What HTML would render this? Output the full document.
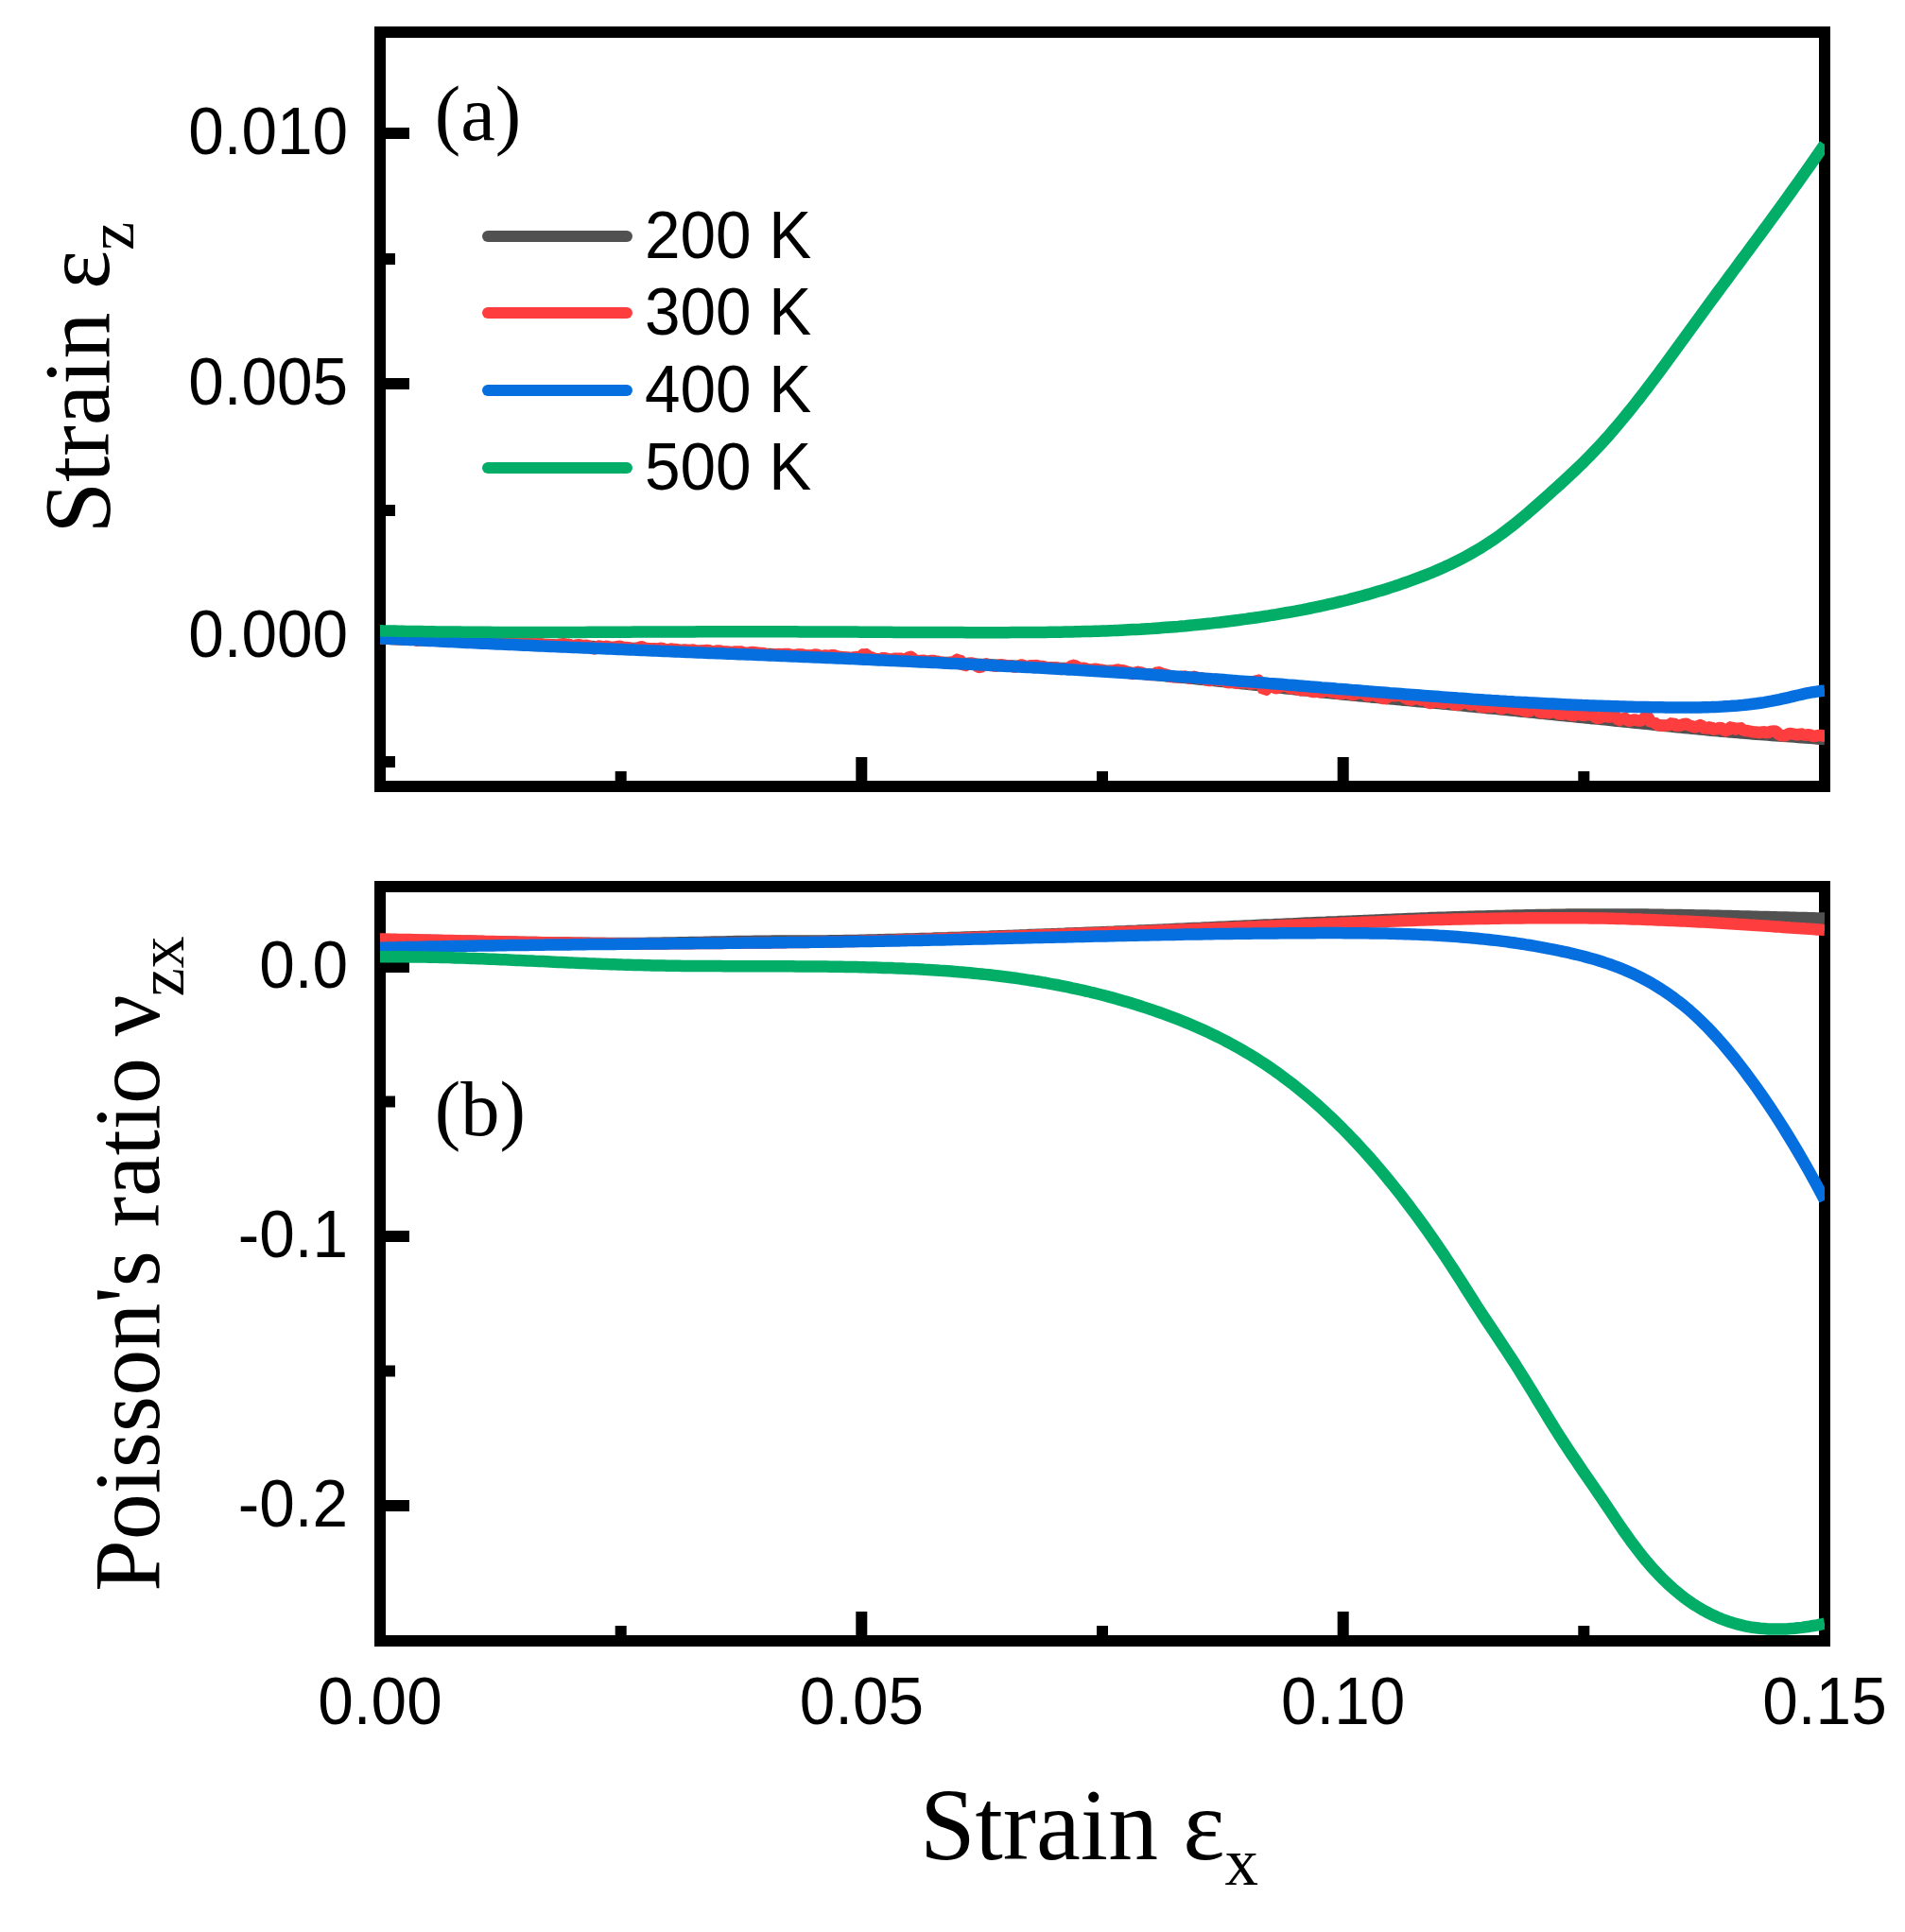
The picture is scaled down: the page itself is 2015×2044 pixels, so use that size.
<!DOCTYPE html>
<html lang="en"><head><meta charset="utf-8"><title>Strain and Poisson's ratio versus strain</title>
<style>
html,body{margin:0;padding:0;background:#fff}
body{width:2015px;height:2044px;overflow:hidden}
svg{display:block}
.sans{font-family:"Liberation Sans",Arial,Helvetica,sans-serif;fill:#000}
.serif{font-family:"Liberation Serif","Times New Roman",Times,serif;fill:#000}
</style></head><body>
<svg width="2015" height="2044" viewBox="0 0 2015 2044">
<rect x="0" y="0" width="2015" height="2044" fill="#fff"/>
<rect x="402" y="34" width="1528" height="798" fill="none" stroke="#000" stroke-width="12"/>
<rect x="402" y="938" width="1528" height="798" fill="none" stroke="#000" stroke-width="12"/>
<line x1="402" y1="141" x2="433.0" y2="141" stroke="#000" stroke-width="12"/>
<line x1="402" y1="274" x2="418.0" y2="274" stroke="#000" stroke-width="12"/>
<line x1="402" y1="406" x2="433.0" y2="406" stroke="#000" stroke-width="12"/>
<line x1="402" y1="540" x2="418.0" y2="540" stroke="#000" stroke-width="12"/>
<line x1="402" y1="673" x2="433.0" y2="673" stroke="#000" stroke-width="12"/>
<line x1="402" y1="806" x2="418.0" y2="806" stroke="#000" stroke-width="12"/>
<line x1="402" y1="1023" x2="433.0" y2="1023" stroke="#000" stroke-width="12"/>
<line x1="402" y1="1165.5" x2="418.0" y2="1165.5" stroke="#000" stroke-width="12"/>
<line x1="402" y1="1308" x2="433.0" y2="1308" stroke="#000" stroke-width="12"/>
<line x1="402" y1="1450.5" x2="418.0" y2="1450.5" stroke="#000" stroke-width="12"/>
<line x1="402" y1="1593" x2="433.0" y2="1593" stroke="#000" stroke-width="12"/>
<line x1="656.7" y1="832" x2="656.7" y2="816.0" stroke="#000" stroke-width="12"/>
<line x1="911.3" y1="832" x2="911.3" y2="801.0" stroke="#000" stroke-width="12"/>
<line x1="1166.0" y1="832" x2="1166.0" y2="816.0" stroke="#000" stroke-width="12"/>
<line x1="1420.7" y1="832" x2="1420.7" y2="801.0" stroke="#000" stroke-width="12"/>
<line x1="1675.3" y1="832" x2="1675.3" y2="816.0" stroke="#000" stroke-width="12"/>
<line x1="656.7" y1="1736" x2="656.7" y2="1720.0" stroke="#000" stroke-width="12"/>
<line x1="911.3" y1="1736" x2="911.3" y2="1705.0" stroke="#000" stroke-width="12"/>
<line x1="1166.0" y1="1736" x2="1166.0" y2="1720.0" stroke="#000" stroke-width="12"/>
<line x1="1420.7" y1="1736" x2="1420.7" y2="1705.0" stroke="#000" stroke-width="12"/>
<line x1="1675.3" y1="1736" x2="1675.3" y2="1720.0" stroke="#000" stroke-width="12"/>
<text class="sans" transform="translate(368,162.5) scale(1,1.03)" font-size="67.5" text-anchor="end">0.010</text>
<text class="sans" transform="translate(368,427.5) scale(1,1.03)" font-size="67.5" text-anchor="end">0.005</text>
<text class="sans" transform="translate(368,694.5) scale(1,1.03)" font-size="67.5" text-anchor="end">0.000</text>
<text class="sans" transform="translate(368,1044.5) scale(1,1.03)" font-size="67.5" text-anchor="end">0.0</text>
<text class="sans" transform="translate(368,1329.5) scale(1,1.03)" font-size="67.5" text-anchor="end">-0.1</text>
<text class="sans" transform="translate(368,1614.5) scale(1,1.03)" font-size="67.5" text-anchor="end">-0.2</text>
<text class="sans" transform="translate(402.0,1823.5) scale(1,1.03)" font-size="67.5" text-anchor="middle">0.00</text>
<text class="sans" transform="translate(911.3,1823.5) scale(1,1.03)" font-size="67.5" text-anchor="middle">0.05</text>
<text class="sans" transform="translate(1420.7,1823.5) scale(1,1.03)" font-size="67.5" text-anchor="middle">0.10</text>
<text class="sans" transform="translate(1930.0,1823.5) scale(1,1.03)" font-size="67.5" text-anchor="middle">0.15</text>
<defs><clipPath id="c1"><rect x="402" y="34" width="1528" height="798"/></clipPath><clipPath id="c2"><rect x="402" y="938" width="1528" height="798"/></clipPath></defs>
<g clip-path="url(#c1)">
<polyline points="390.0,675.1 402.0,675.5 406.0,675.6 410.0,675.8 414.0,675.9 418.0,676.1 422.0,676.2 426.0,676.4 430.0,676.5 434.0,676.7 438.0,676.8 442.0,677.0 446.0,677.1 450.0,677.3 454.0,677.4 458.0,677.6 462.0,677.7 466.0,677.9 470.0,678.0 474.0,678.2 478.0,678.3 482.0,678.5 486.0,678.6 490.0,678.8 494.0,678.9 498.0,679.1 502.0,679.2 506.0,679.4 510.0,679.5 514.0,679.7 518.0,679.8 522.0,680.0 526.0,680.1 530.0,680.3 534.0,680.5 538.0,680.6 542.0,680.8 546.0,680.9 550.0,681.1 554.0,681.2 558.0,681.4 562.0,681.6 566.0,681.7 570.0,681.9 574.0,682.0 578.0,682.2 582.0,682.3 586.0,682.5 590.0,682.7 594.0,682.8 598.0,683.0 602.0,683.1 606.0,683.3 610.0,683.5 614.0,683.6 618.0,683.8 622.0,683.9 626.0,684.1 630.0,684.3 634.0,684.4 638.0,684.6 642.0,684.8 646.0,684.9 650.0,685.1 654.0,685.3 658.0,685.4 662.0,685.6 666.0,685.7 670.0,685.9 674.0,686.1 678.0,686.2 682.0,686.4 686.0,686.6 690.0,686.7 694.0,686.9 698.0,687.1 702.0,687.2 706.0,687.4 710.0,687.6 714.0,687.7 718.0,687.9 722.0,688.1 726.0,688.2 730.0,688.4 734.0,688.6 738.0,688.7 742.0,688.9 746.0,689.1 750.0,689.3 754.0,689.4 758.0,689.6 762.0,689.8 766.0,689.9 770.0,690.1 774.0,690.3 778.0,690.5 782.0,690.6 786.0,690.8 790.0,691.0 794.0,691.2 798.0,691.4 802.0,691.5 806.0,691.7 810.0,691.9 814.0,692.1 818.0,692.3 822.0,692.4 826.0,692.6 830.0,692.8 834.0,693.0 838.0,693.2 842.0,693.3 846.0,693.5 850.0,693.7 854.0,693.9 858.0,694.1 862.0,694.3 866.0,694.4 870.0,694.6 874.0,694.8 878.0,695.0 882.0,695.2 886.0,695.4 890.0,695.6 894.0,695.8 898.0,695.9 902.0,696.1 906.0,696.3 910.0,696.5 914.0,696.7 918.0,696.9 922.0,697.1 926.0,697.3 930.0,697.5 934.0,697.7 938.0,697.9 942.0,698.1 946.0,698.3 950.0,698.5 954.0,698.7 958.0,698.9 962.0,699.1 966.0,699.2 970.0,699.4 974.0,699.6 978.0,699.8 982.0,700.0 986.0,700.2 990.0,700.4 994.0,700.7 998.0,700.9 1002.0,701.1 1006.0,701.3 1010.0,701.5 1014.0,701.7 1018.0,701.9 1022.0,702.1 1026.0,702.3 1030.0,702.5 1034.0,702.7 1038.0,702.9 1042.0,703.1 1046.0,703.3 1050.0,703.5 1054.0,703.7 1058.0,703.9 1062.0,704.1 1066.0,704.3 1070.0,704.5 1074.0,704.7 1078.0,704.8 1082.0,705.0 1086.0,705.2 1090.0,705.4 1094.0,705.6 1098.0,705.8 1102.0,706.0 1106.0,706.2 1110.0,706.3 1114.0,706.5 1118.0,706.7 1122.0,706.9 1126.0,707.1 1130.0,707.4 1134.0,707.6 1138.0,707.8 1142.0,708.0 1146.0,708.2 1150.0,708.5 1154.0,708.7 1158.0,709.0 1162.0,709.2 1166.0,709.5 1170.0,709.8 1174.0,710.1 1178.0,710.4 1182.0,710.7 1186.0,711.0 1190.0,711.3 1194.0,711.6 1198.0,712.0 1202.0,712.3 1206.0,712.6 1210.0,713.0 1214.0,713.3 1218.0,713.7 1222.0,714.1 1226.0,714.4 1230.0,714.8 1234.0,715.2 1238.0,715.6 1242.0,716.0 1246.0,716.3 1250.0,716.7 1254.0,717.1 1258.0,717.5 1262.0,717.9 1266.0,718.3 1270.0,718.7 1274.0,719.1 1278.0,719.5 1282.0,719.9 1286.0,720.3 1290.0,720.7 1294.0,721.1 1298.0,721.5 1302.0,721.9 1306.0,722.3 1310.0,722.8 1314.0,723.2 1318.0,723.6 1322.0,724.1 1326.0,724.5 1330.0,724.9 1334.0,725.4 1338.0,725.8 1342.0,726.3 1346.0,726.7 1350.0,727.1 1354.0,727.6 1358.0,728.0 1362.0,728.5 1366.0,728.9 1370.0,729.3 1374.0,729.8 1378.0,730.2 1382.0,730.6 1386.0,731.1 1390.0,731.5 1394.0,731.9 1398.0,732.3 1402.0,732.7 1406.0,733.1 1410.0,733.5 1414.0,733.9 1418.0,734.3 1422.0,734.7 1426.0,735.1 1430.0,735.5 1434.0,735.8 1438.0,736.2 1442.0,736.6 1446.0,737.0 1450.0,737.4 1454.0,737.7 1458.0,738.1 1462.0,738.5 1466.0,738.9 1470.0,739.2 1474.0,739.6 1478.0,740.0 1482.0,740.4 1486.0,740.7 1490.0,741.1 1494.0,741.5 1498.0,741.9 1502.0,742.2 1506.0,742.6 1510.0,743.0 1514.0,743.4 1518.0,743.7 1522.0,744.1 1526.0,744.5 1530.0,744.9 1534.0,745.3 1538.0,745.6 1542.0,746.0 1546.0,746.4 1550.0,746.8 1554.0,747.2 1558.0,747.6 1562.0,748.0 1566.0,748.4 1570.0,748.8 1574.0,749.2 1578.0,749.5 1582.0,749.9 1586.0,750.3 1590.0,750.7 1594.0,751.1 1598.0,751.5 1602.0,751.9 1606.0,752.3 1610.0,752.7 1614.0,753.1 1618.0,753.5 1622.0,753.9 1626.0,754.3 1630.0,754.7 1634.0,755.1 1638.0,755.5 1642.0,755.9 1646.0,756.3 1650.0,756.7 1654.0,757.1 1658.0,757.5 1662.0,757.9 1666.0,758.3 1670.0,758.7 1674.0,759.1 1678.0,759.5 1682.0,759.9 1686.0,760.2 1690.0,760.6 1694.0,761.0 1698.0,761.4 1702.0,761.9 1706.0,762.3 1710.0,762.7 1714.0,763.1 1718.0,763.5 1722.0,763.9 1726.0,764.3 1730.0,764.7 1734.0,765.1 1738.0,765.5 1742.0,765.9 1746.0,766.4 1750.0,766.8 1754.0,767.2 1758.0,767.6 1762.0,768.0 1766.0,768.4 1770.0,768.8 1774.0,769.2 1778.0,769.6 1782.0,770.0 1786.0,770.4 1790.0,770.8 1794.0,771.1 1798.0,771.5 1802.0,771.9 1806.0,772.3 1810.0,772.7 1814.0,773.0 1818.0,773.4 1822.0,773.7 1826.0,774.1 1830.0,774.4 1834.0,774.8 1838.0,775.1 1842.0,775.4 1846.0,775.8 1850.0,776.1 1854.0,776.4 1858.0,776.7 1862.0,777.0 1866.0,777.3 1870.0,777.6 1874.0,777.9 1878.0,778.2 1882.0,778.5 1886.0,778.8 1890.0,779.1 1894.0,779.3 1898.0,779.6 1902.0,779.9 1906.0,780.2 1910.0,780.5 1914.0,780.8 1918.0,781.1 1922.0,781.4 1926.0,781.7 1930.0,782.0" fill="none" stroke="#515151" stroke-width="12.5" stroke-linejoin="round" stroke-linecap="butt"/>
<polyline points="390.0,676.0 402.0,675.6 404.5,674.8 407.0,674.1 409.5,675.2 412.0,675.6 414.5,675.6 417.0,676.1 419.5,676.2 422.0,675.5 424.5,675.5 427.0,676.0 429.5,676.8 432.0,676.7 434.5,675.8 437.0,676.0 439.5,677.2 442.0,677.8 444.5,677.0 447.0,676.8 449.5,677.5 452.0,677.3 454.5,677.8 457.0,676.7 459.5,675.0 462.0,676.1 464.5,677.9 467.0,677.4 469.5,677.4 472.0,677.4 474.5,677.6 477.0,677.6 479.5,677.8 482.0,677.9 484.5,678.2 487.0,678.4 489.5,678.8 492.0,679.0 494.5,678.2 497.0,679.0 499.5,678.6 502.0,678.1 504.5,678.6 507.0,679.2 509.5,679.5 512.0,678.8 514.5,677.5 517.0,676.0 519.5,676.6 522.0,678.7 524.5,679.8 527.0,680.4 529.5,680.6 532.0,680.4 534.5,680.3 537.0,680.4 539.5,680.7 542.0,678.0 544.5,676.6 547.0,678.4 549.5,680.0 552.0,680.9 554.5,680.5 557.0,681.0 559.5,681.9 562.0,680.8 564.5,680.9 567.0,681.7 569.5,680.9 572.0,681.0 574.5,681.7 577.0,682.0 579.5,682.1 582.0,682.3 584.5,682.8 587.0,682.8 589.5,682.4 592.0,681.7 594.5,681.3 597.0,681.3 599.5,682.1 602.0,681.8 604.5,683.1 607.0,683.6 609.5,682.4 612.0,682.2 614.5,682.7 617.0,683.3 619.5,682.8 622.0,682.9 624.5,684.9 627.0,686.9 629.5,686.0 632.0,683.4 634.5,683.7 637.0,684.2 639.5,684.3 642.0,683.7 644.5,684.6 647.0,684.9 649.5,684.9 652.0,684.4 654.5,683.6 657.0,684.2 659.5,685.1 662.0,685.0 664.5,685.3 667.0,686.4 669.5,686.7 672.0,686.0 674.5,686.1 677.0,684.4 679.5,684.3 682.0,685.8 684.5,685.9 687.0,686.3 689.5,686.4 692.0,686.3 694.5,686.6 697.0,686.3 699.5,685.7 702.0,686.5 704.5,687.2 707.0,687.6 709.5,686.6 712.0,686.8 714.5,686.9 717.0,687.4 719.5,688.3 722.0,687.9 724.5,687.4 727.0,687.8 729.5,688.1 732.0,687.5 734.5,688.0 737.0,689.1 739.5,689.0 742.0,688.4 744.5,688.2 747.0,688.1 749.5,688.0 752.0,689.1 754.5,689.3 757.0,688.9 759.5,688.3 762.0,688.7 764.5,689.6 767.0,689.6 769.5,689.5 772.0,690.1 774.5,690.3 777.0,689.6 779.5,689.5 782.0,689.4 784.5,689.6 787.0,690.7 789.5,691.0 792.0,690.7 794.5,689.9 797.0,690.0 799.5,690.6 802.0,690.8 804.5,691.0 807.0,691.0 809.5,691.9 812.0,692.8 814.5,693.0 817.0,692.8 819.5,692.3 822.0,692.3 824.5,692.1 827.0,692.5 829.5,692.1 832.0,691.9 834.5,692.1 837.0,692.9 839.5,693.0 842.0,692.7 844.5,692.3 847.0,692.6 849.5,692.6 852.0,693.7 854.5,693.5 857.0,693.5 859.5,693.2 862.0,692.5 864.5,692.7 867.0,693.9 869.5,694.6 872.0,693.6 874.5,693.6 877.0,693.9 879.5,693.2 882.0,693.2 884.5,694.1 887.0,694.6 889.5,694.9 892.0,695.7 894.5,695.4 897.0,695.7 899.5,696.6 902.0,696.4 904.5,694.9 907.0,695.4 909.5,696.1 912.0,693.1 914.5,691.3 917.0,692.9 919.5,695.1 922.0,695.5 924.5,696.6 927.0,697.7 929.5,697.9 932.0,696.8 934.5,695.9 937.0,696.6 939.5,697.1 942.0,697.5 944.5,697.1 947.0,696.6 949.5,697.2 952.0,696.6 954.5,697.2 957.0,698.3 959.5,696.5 962.0,694.7 964.5,695.2 967.0,698.5 969.5,699.2 972.0,699.0 974.5,699.1 977.0,698.7 979.5,699.6 982.0,699.7 984.5,698.9 987.0,699.0 989.5,699.4 992.0,699.7 994.5,700.7 997.0,700.8 999.5,701.5 1002.0,701.6 1004.5,700.9 1007.0,700.4 1009.5,700.0 1012.0,698.1 1014.5,696.9 1017.0,701.4 1019.5,705.0 1022.0,703.7 1024.5,701.7 1027.0,701.5 1029.5,702.0 1032.0,703.4 1034.5,705.7 1037.0,706.2 1039.5,704.3 1042.0,702.2 1044.5,702.8 1047.0,704.0 1049.5,704.1 1052.0,704.6 1054.5,704.7 1057.0,703.4 1059.5,703.3 1062.0,703.8 1064.5,704.5 1067.0,704.2 1069.5,704.7 1072.0,705.4 1074.5,705.5 1077.0,704.8 1079.5,703.6 1082.0,703.5 1084.5,705.3 1087.0,705.2 1089.5,704.2 1092.0,704.3 1094.5,704.3 1097.0,704.0 1099.5,705.0 1102.0,704.9 1104.5,705.4 1107.0,706.3 1109.5,706.2 1112.0,706.6 1114.5,706.6 1117.0,706.4 1119.5,707.0 1122.0,708.0 1124.5,707.5 1127.0,707.8 1129.5,706.8 1132.0,705.5 1134.5,703.8 1137.0,704.1 1139.5,705.6 1142.0,707.9 1144.5,707.0 1147.0,706.8 1149.5,707.9 1152.0,708.4 1154.5,708.6 1157.0,708.0 1159.5,707.6 1162.0,708.9 1164.5,708.6 1167.0,709.3 1169.5,710.2 1172.0,710.6 1174.5,709.8 1177.0,709.5 1179.5,709.2 1182.0,708.4 1184.5,709.0 1187.0,709.2 1189.5,709.6 1192.0,710.7 1194.5,711.5 1197.0,713.2 1199.5,712.8 1202.0,710.6 1204.5,711.3 1207.0,711.5 1209.5,712.7 1212.0,713.2 1214.5,713.8 1217.0,713.9 1219.5,714.0 1222.0,712.7 1224.5,711.0 1227.0,711.8 1229.5,712.9 1232.0,713.4 1234.5,714.0 1237.0,716.0 1239.5,715.8 1242.0,716.4 1244.5,716.1 1247.0,716.8 1249.5,715.6 1252.0,716.0 1254.5,715.5 1257.0,717.2 1259.5,718.1 1262.0,715.8 1264.5,716.1 1267.0,717.6 1269.5,717.4 1272.0,717.1 1274.5,719.1 1277.0,719.5 1279.5,720.3 1282.0,719.5 1284.5,718.2 1287.0,719.2 1289.5,720.6 1292.0,719.0 1294.5,719.6 1297.0,721.4 1299.5,722.4 1302.0,721.8 1304.5,720.9 1307.0,723.2 1309.5,722.5 1312.0,722.1 1314.5,722.4 1317.0,722.2 1319.5,721.8 1322.0,723.1 1324.5,724.4 1327.0,722.1 1329.5,719.1 1332.0,720.1 1334.5,725.7 1337.0,730.9 1339.5,729.5 1342.0,725.4 1344.5,725.9 1347.0,727.1 1349.5,728.2 1352.0,727.9 1354.5,725.9 1357.0,725.4 1359.5,726.1 1362.0,726.3 1364.5,728.5 1367.0,728.2 1369.5,727.8 1372.0,728.3 1374.5,730.6 1377.0,730.1 1379.5,729.6 1382.0,730.4 1384.5,730.6 1387.0,731.6 1389.5,732.3 1392.0,731.4 1394.5,731.9 1397.0,732.6 1399.5,731.9 1402.0,730.3 1404.5,730.7 1407.0,731.9 1409.5,732.4 1412.0,732.1 1414.5,733.6 1417.0,733.9 1419.5,734.1 1422.0,733.2 1424.5,732.6 1427.0,733.4 1429.5,735.4 1432.0,734.9 1434.5,734.0 1437.0,733.0 1439.5,733.4 1442.0,732.1 1444.5,736.0 1447.0,736.4 1449.5,735.7 1452.0,734.4 1454.5,735.1 1457.0,737.2 1459.5,737.4 1462.0,738.3 1464.5,739.6 1467.0,738.4 1469.5,735.6 1472.0,735.9 1474.5,736.3 1477.0,736.3 1479.5,735.2 1482.0,735.5 1484.5,737.3 1487.0,738.7 1489.5,740.0 1492.0,740.3 1494.5,741.0 1497.0,738.1 1499.5,738.2 1502.0,740.4 1504.5,740.4 1507.0,740.2 1509.5,742.4 1512.0,743.9 1514.5,743.8 1517.0,742.1 1519.5,742.2 1522.0,742.8 1524.5,743.3 1527.0,744.1 1529.5,743.2 1532.0,742.7 1534.5,741.3 1537.0,744.6 1539.5,746.5 1542.0,745.4 1544.5,745.2 1547.0,742.9 1549.5,743.2 1552.0,743.2 1554.5,745.5 1557.0,745.9 1559.5,744.0 1562.0,744.2 1564.5,746.3 1567.0,749.6 1569.5,747.9 1572.0,747.4 1574.5,748.0 1577.0,748.1 1579.5,747.1 1582.0,745.9 1584.5,747.6 1587.0,750.6 1589.5,749.7 1592.0,748.1 1594.5,747.3 1597.0,748.9 1599.5,749.5 1602.0,749.6 1604.5,750.9 1607.0,750.1 1609.5,750.7 1612.0,752.2 1614.5,752.4 1617.0,753.0 1619.5,751.7 1622.0,749.5 1624.5,749.2 1627.0,751.5 1629.5,754.6 1632.0,754.0 1634.5,753.6 1637.0,754.3 1639.5,754.3 1642.0,752.7 1644.5,753.3 1647.0,754.4 1649.5,755.9 1652.0,755.3 1654.5,755.8 1657.0,754.1 1659.5,755.5 1662.0,757.2 1664.5,756.7 1667.0,756.9 1669.5,754.4 1672.0,756.0 1674.5,757.2 1677.0,756.5 1679.5,755.7 1682.0,756.9 1684.5,755.6 1687.0,758.6 1689.5,759.7 1692.0,760.0 1694.5,758.5 1697.0,757.3 1699.5,758.0 1702.0,759.0 1704.5,757.9 1707.0,755.8 1709.5,758.6 1712.0,762.1 1714.5,762.1 1717.0,758.8 1719.5,760.2 1722.0,762.6 1724.5,762.8 1727.0,761.4 1729.5,761.6 1732.0,762.3 1734.5,762.6 1737.0,762.0 1739.5,759.2 1742.0,757.2 1744.5,761.0 1747.0,765.2 1749.5,763.9 1752.0,766.1 1754.5,767.8 1757.0,767.1 1759.5,768.3 1762.0,766.9 1764.5,767.7 1767.0,765.9 1769.5,764.5 1772.0,767.0 1774.5,768.9 1777.0,767.0 1779.5,766.9 1782.0,765.6 1784.5,766.0 1787.0,767.8 1789.5,768.1 1792.0,769.3 1794.5,769.7 1797.0,767.2 1799.5,767.3 1802.0,769.7 1804.5,772.2 1807.0,769.8 1809.5,769.0 1812.0,771.2 1814.5,772.8 1817.0,770.3 1819.5,769.8 1822.0,770.9 1824.5,772.9 1827.0,773.8 1829.5,769.9 1832.0,768.8 1834.5,771.4 1837.0,771.7 1839.5,769.1 1842.0,770.9 1844.5,773.3 1847.0,772.7 1849.5,773.4 1852.0,773.8 1854.5,774.4 1857.0,774.5 1859.5,774.8 1862.0,775.4 1864.5,773.9 1867.0,774.6 1869.5,775.7 1872.0,774.2 1874.5,773.7 1877.0,773.3 1879.5,774.4 1882.0,777.8 1884.5,777.9 1887.0,778.7 1889.5,777.7 1892.0,776.3 1894.5,776.0 1897.0,776.6 1899.5,777.0 1902.0,777.6 1904.5,776.2 1907.0,777.1 1909.5,777.9 1912.0,777.2 1914.5,777.4 1917.0,778.7 1919.5,778.9 1922.0,778.3 1924.5,778.0 1927.0,778.0 1929.5,779.1 1930.0,778.8" fill="none" stroke="#fe3e3e" stroke-width="12.5" stroke-linejoin="bevel" stroke-linecap="butt"/>
<polyline points="390.0,674.6 402.0,675.2 406.0,675.4 410.0,675.6 414.0,675.9 418.0,676.1 422.0,676.3 426.0,676.5 430.0,676.7 434.0,676.9 438.0,677.1 442.0,677.3 446.0,677.5 450.0,677.7 454.0,677.9 458.0,678.1 462.0,678.3 466.0,678.5 470.0,678.7 474.0,678.9 478.0,679.1 482.0,679.3 486.0,679.5 490.0,679.7 494.0,679.9 498.0,680.1 502.0,680.3 506.0,680.5 510.0,680.7 514.0,680.8 518.0,681.0 522.0,681.2 526.0,681.4 530.0,681.6 534.0,681.8 538.0,681.9 542.0,682.1 546.0,682.3 550.0,682.5 554.0,682.7 558.0,682.8 562.0,683.0 566.0,683.2 570.0,683.4 574.0,683.6 578.0,683.7 582.0,683.9 586.0,684.1 590.0,684.2 594.0,684.4 598.0,684.6 602.0,684.8 606.0,684.9 610.0,685.1 614.0,685.3 618.0,685.4 622.0,685.6 626.0,685.8 630.0,686.0 634.0,686.1 638.0,686.3 642.0,686.5 646.0,686.6 650.0,686.8 654.0,687.0 658.0,687.1 662.0,687.3 666.0,687.4 670.0,687.6 674.0,687.8 678.0,687.9 682.0,688.1 686.0,688.3 690.0,688.4 694.0,688.6 698.0,688.8 702.0,688.9 706.0,689.1 710.0,689.2 714.0,689.4 718.0,689.6 722.0,689.7 726.0,689.9 730.0,690.1 734.0,690.2 738.0,690.4 742.0,690.5 746.0,690.7 750.0,690.9 754.0,691.0 758.0,691.2 762.0,691.3 766.0,691.5 770.0,691.7 774.0,691.8 778.0,692.0 782.0,692.2 786.0,692.3 790.0,692.5 794.0,692.6 798.0,692.8 802.0,693.0 806.0,693.1 810.0,693.3 814.0,693.5 818.0,693.6 822.0,693.8 826.0,693.9 830.0,694.1 834.0,694.3 838.0,694.4 842.0,694.6 846.0,694.8 850.0,694.9 854.0,695.1 858.0,695.3 862.0,695.4 866.0,695.6 870.0,695.8 874.0,695.9 878.0,696.1 882.0,696.3 886.0,696.5 890.0,696.6 894.0,696.8 898.0,697.0 902.0,697.1 906.0,697.3 910.0,697.5 914.0,697.7 918.0,697.8 922.0,698.0 926.0,698.2 930.0,698.4 934.0,698.5 938.0,698.7 942.0,698.9 946.0,699.1 950.0,699.3 954.0,699.4 958.0,699.6 962.0,699.8 966.0,700.0 970.0,700.2 974.0,700.4 978.0,700.5 982.0,700.7 986.0,700.9 990.0,701.1 994.0,701.3 998.0,701.5 1002.0,701.7 1006.0,701.9 1010.0,702.1 1014.0,702.3 1018.0,702.5 1022.0,702.6 1026.0,702.8 1030.0,703.0 1034.0,703.2 1038.0,703.4 1042.0,703.6 1046.0,703.8 1050.0,704.0 1054.0,704.3 1058.0,704.5 1062.0,704.7 1066.0,704.9 1070.0,705.1 1074.0,705.3 1078.0,705.5 1082.0,705.7 1086.0,705.9 1090.0,706.1 1094.0,706.4 1098.0,706.6 1102.0,706.8 1106.0,707.0 1110.0,707.2 1114.0,707.5 1118.0,707.7 1122.0,707.9 1126.0,708.1 1130.0,708.4 1134.0,708.6 1138.0,708.8 1142.0,709.1 1146.0,709.3 1150.0,709.5 1154.0,709.8 1158.0,710.0 1162.0,710.3 1166.0,710.5 1170.0,710.7 1174.0,711.0 1178.0,711.2 1182.0,711.5 1186.0,711.7 1190.0,712.0 1194.0,712.2 1198.0,712.5 1202.0,712.7 1206.0,713.0 1210.0,713.3 1214.0,713.5 1218.0,713.8 1222.0,714.1 1226.0,714.3 1230.0,714.6 1234.0,714.9 1238.0,715.1 1242.0,715.4 1246.0,715.7 1250.0,716.0 1254.0,716.2 1258.0,716.5 1262.0,716.8 1266.0,717.1 1270.0,717.4 1274.0,717.7 1278.0,718.0 1282.0,718.3 1286.0,718.5 1290.0,718.8 1294.0,719.1 1298.0,719.4 1302.0,719.7 1306.0,720.1 1310.0,720.4 1314.0,720.7 1318.0,721.0 1322.0,721.3 1326.0,721.6 1330.0,721.9 1334.0,722.2 1338.0,722.5 1342.0,722.9 1346.0,723.2 1350.0,723.5 1354.0,723.8 1358.0,724.1 1362.0,724.5 1366.0,724.8 1370.0,725.1 1374.0,725.4 1378.0,725.7 1382.0,726.1 1386.0,726.4 1390.0,726.7 1394.0,727.0 1398.0,727.4 1402.0,727.7 1406.0,728.0 1410.0,728.3 1414.0,728.7 1418.0,729.0 1422.0,729.3 1426.0,729.6 1430.0,730.0 1434.0,730.3 1438.0,730.6 1442.0,730.9 1446.0,731.2 1450.0,731.6 1454.0,731.9 1458.0,732.2 1462.0,732.5 1466.0,732.8 1470.0,733.2 1474.0,733.5 1478.0,733.8 1482.0,734.1 1486.0,734.4 1490.0,734.7 1494.0,735.0 1498.0,735.3 1502.0,735.6 1506.0,735.9 1510.0,736.2 1514.0,736.5 1518.0,736.8 1522.0,737.1 1526.0,737.4 1530.0,737.7 1534.0,738.0 1538.0,738.3 1542.0,738.6 1546.0,738.8 1550.0,739.1 1554.0,739.4 1558.0,739.7 1562.0,739.9 1566.0,740.2 1570.0,740.5 1574.0,740.7 1578.0,741.0 1582.0,741.2 1586.0,741.5 1590.0,741.7 1594.0,742.0 1598.0,742.2 1602.0,742.5 1606.0,742.7 1610.0,742.9 1614.0,743.1 1618.0,743.4 1622.0,743.6 1626.0,743.8 1630.0,744.0 1634.0,744.2 1638.0,744.4 1642.0,744.6 1646.0,744.8 1650.0,745.0 1654.0,745.2 1658.0,745.4 1662.0,745.6 1666.0,745.7 1670.0,745.9 1674.0,746.1 1678.0,746.2 1682.0,746.4 1686.0,746.5 1690.0,746.7 1694.0,746.8 1698.0,747.0 1702.0,747.1 1706.0,747.2 1710.0,747.3 1714.0,747.5 1718.0,747.6 1722.0,747.7 1726.0,747.8 1730.0,747.9 1734.0,747.9 1738.0,748.0 1742.0,748.1 1746.0,748.2 1750.0,748.2 1754.0,748.3 1758.0,748.3 1762.0,748.4 1766.0,748.4 1770.0,748.4 1774.0,748.5 1778.0,748.5 1782.0,748.5 1786.0,748.5 1790.0,748.5 1794.0,748.4 1798.0,748.4 1802.0,748.3 1806.0,748.2 1810.0,748.1 1814.0,747.9 1818.0,747.8 1822.0,747.6 1826.0,747.3 1830.0,747.1 1834.0,746.8 1838.0,746.5 1842.0,746.1 1846.0,745.7 1850.0,745.3 1854.0,744.8 1858.0,744.3 1862.0,743.7 1866.0,743.1 1870.0,742.4 1874.0,741.7 1878.0,740.9 1882.0,740.1 1886.0,739.2 1890.0,738.3 1894.0,737.4 1898.0,736.4 1902.0,735.5 1906.0,734.6 1910.0,733.7 1914.0,732.9 1918.0,732.2 1922.0,731.6 1926.0,731.0 1930.0,730.6" fill="none" stroke="#056fe0" stroke-width="12.5" stroke-linejoin="round" stroke-linecap="butt"/>
<polyline points="390.0,667.0 402.0,667.3 406.0,667.4 410.0,667.5 414.0,667.5 418.0,667.6 422.0,667.7 426.0,667.8 430.0,667.9 434.0,667.9 438.0,668.0 442.0,668.1 446.0,668.1 450.0,668.2 454.0,668.3 458.0,668.3 462.0,668.4 466.0,668.4 470.0,668.5 474.0,668.5 478.0,668.5 482.0,668.6 486.0,668.6 490.0,668.7 494.0,668.7 498.0,668.7 502.0,668.8 506.0,668.8 510.0,668.8 514.0,668.8 518.0,668.8 522.0,668.9 526.0,668.9 530.0,668.9 534.0,668.9 538.0,668.9 542.0,668.9 546.0,668.9 550.0,668.9 554.0,669.0 558.0,669.0 562.0,669.0 566.0,669.0 570.0,669.0 574.0,669.0 578.0,669.0 582.0,668.9 586.0,668.9 590.0,668.9 594.0,668.9 598.0,668.9 602.0,668.9 606.0,668.9 610.0,668.9 614.0,668.9 618.0,668.9 622.0,668.8 626.0,668.8 630.0,668.8 634.0,668.8 638.0,668.8 642.0,668.8 646.0,668.8 650.0,668.7 654.0,668.7 658.0,668.7 662.0,668.7 666.0,668.7 670.0,668.6 674.0,668.6 678.0,668.6 682.0,668.6 686.0,668.6 690.0,668.5 694.0,668.5 698.0,668.5 702.0,668.5 706.0,668.5 710.0,668.5 714.0,668.4 718.0,668.4 722.0,668.4 726.0,668.4 730.0,668.4 734.0,668.4 738.0,668.3 742.0,668.3 746.0,668.3 750.0,668.3 754.0,668.3 758.0,668.3 762.0,668.3 766.0,668.3 770.0,668.3 774.0,668.3 778.0,668.3 782.0,668.3 786.0,668.2 790.0,668.2 794.0,668.2 798.0,668.3 802.0,668.3 806.0,668.3 810.0,668.3 814.0,668.3 818.0,668.3 822.0,668.3 826.0,668.3 830.0,668.3 834.0,668.3 838.0,668.3 842.0,668.3 846.0,668.4 850.0,668.4 854.0,668.4 858.0,668.4 862.0,668.4 866.0,668.4 870.0,668.5 874.0,668.5 878.0,668.5 882.0,668.5 886.0,668.5 890.0,668.6 894.0,668.6 898.0,668.6 902.0,668.6 906.0,668.6 910.0,668.7 914.0,668.7 918.0,668.7 922.0,668.7 926.0,668.7 930.0,668.8 934.0,668.8 938.0,668.8 942.0,668.8 946.0,668.9 950.0,668.9 954.0,668.9 958.0,668.9 962.0,668.9 966.0,669.0 970.0,669.0 974.0,669.0 978.0,669.0 982.0,669.0 986.0,669.0 990.0,669.1 994.0,669.1 998.0,669.1 1002.0,669.1 1006.0,669.1 1010.0,669.1 1014.0,669.1 1018.0,669.1 1022.0,669.2 1026.0,669.2 1030.0,669.2 1034.0,669.2 1038.0,669.2 1042.0,669.2 1046.0,669.2 1050.0,669.2 1054.0,669.2 1058.0,669.2 1062.0,669.2 1066.0,669.2 1070.0,669.1 1074.0,669.1 1078.0,669.1 1082.0,669.1 1086.0,669.1 1090.0,669.0 1094.0,669.0 1098.0,669.0 1102.0,668.9 1106.0,668.9 1110.0,668.8 1114.0,668.8 1118.0,668.7 1122.0,668.7 1126.0,668.6 1130.0,668.5 1134.0,668.4 1138.0,668.3 1142.0,668.2 1146.0,668.1 1150.0,668.0 1154.0,667.9 1158.0,667.8 1162.0,667.7 1166.0,667.5 1170.0,667.4 1174.0,667.2 1178.0,667.1 1182.0,666.9 1186.0,666.7 1190.0,666.5 1194.0,666.3 1198.0,666.1 1202.0,665.9 1206.0,665.7 1210.0,665.4 1214.0,665.2 1218.0,665.0 1222.0,664.7 1226.0,664.4 1230.0,664.1 1234.0,663.8 1238.0,663.5 1242.0,663.2 1246.0,662.9 1250.0,662.5 1254.0,662.2 1258.0,661.8 1262.0,661.4 1266.0,661.0 1270.0,660.6 1274.0,660.2 1278.0,659.8 1282.0,659.4 1286.0,658.9 1290.0,658.5 1294.0,658.0 1298.0,657.5 1302.0,657.0 1306.0,656.5 1310.0,656.0 1314.0,655.4 1318.0,654.9 1322.0,654.3 1326.0,653.8 1330.0,653.2 1334.0,652.6 1338.0,652.0 1342.0,651.4 1346.0,650.7 1350.0,650.1 1354.0,649.4 1358.0,648.7 1362.0,648.0 1366.0,647.3 1370.0,646.6 1374.0,645.8 1378.0,645.1 1382.0,644.3 1386.0,643.5 1390.0,642.7 1394.0,641.8 1398.0,641.0 1402.0,640.1 1406.0,639.2 1410.0,638.3 1414.0,637.4 1418.0,636.4 1422.0,635.5 1426.0,634.5 1430.0,633.4 1434.0,632.4 1438.0,631.3 1442.0,630.2 1446.0,629.1 1450.0,628.0 1454.0,626.8 1458.0,625.6 1462.0,624.4 1466.0,623.2 1470.0,621.9 1474.0,620.6 1478.0,619.3 1482.0,617.9 1486.0,616.5 1490.0,615.1 1494.0,613.7 1498.0,612.2 1502.0,610.7 1506.0,609.1 1510.0,607.6 1514.0,605.9 1518.0,604.3 1522.0,602.5 1526.0,600.8 1530.0,598.9 1534.0,597.1 1538.0,595.1 1542.0,593.1 1546.0,591.1 1550.0,589.0 1554.0,586.8 1558.0,584.5 1562.0,582.2 1566.0,579.8 1570.0,577.3 1574.0,574.7 1578.0,572.1 1582.0,569.3 1586.0,566.5 1590.0,563.6 1594.0,560.6 1598.0,557.5 1602.0,554.3 1606.0,551.1 1610.0,547.8 1614.0,544.4 1618.0,541.0 1622.0,537.5 1626.0,534.0 1630.0,530.5 1634.0,526.9 1638.0,523.3 1642.0,519.7 1646.0,516.1 1650.0,512.5 1654.0,508.8 1658.0,505.1 1662.0,501.4 1666.0,497.6 1670.0,493.8 1674.0,489.9 1678.0,485.9 1682.0,481.8 1686.0,477.7 1690.0,473.5 1694.0,469.2 1698.0,464.8 1702.0,460.3 1706.0,455.7 1710.0,451.0 1714.0,446.3 1718.0,441.4 1722.0,436.5 1726.0,431.6 1730.0,426.5 1734.0,421.5 1738.0,416.3 1742.0,411.1 1746.0,405.8 1750.0,400.5 1754.0,395.2 1758.0,389.8 1762.0,384.4 1766.0,378.9 1770.0,373.4 1774.0,367.9 1778.0,362.4 1782.0,356.9 1786.0,351.4 1790.0,345.9 1794.0,340.4 1798.0,334.9 1802.0,329.4 1806.0,323.9 1810.0,318.4 1814.0,313.0 1818.0,307.5 1822.0,302.1 1826.0,296.7 1830.0,291.3 1834.0,285.9 1838.0,280.5 1842.0,275.0 1846.0,269.6 1850.0,264.2 1854.0,258.8 1858.0,253.4 1862.0,248.0 1866.0,242.5 1870.0,237.1 1874.0,231.6 1878.0,226.1 1882.0,220.6 1886.0,215.1 1890.0,209.6 1894.0,204.0 1898.0,198.4 1902.0,192.8 1906.0,187.2 1910.0,181.5 1914.0,175.8 1918.0,170.1 1922.0,164.3 1926.0,158.5 1930.0,152.7" fill="none" stroke="#02ad68" stroke-width="12.5" stroke-linejoin="round" stroke-linecap="butt"/>
</g><g clip-path="url(#c2)">
<polyline points="390.0,993.8 402.0,994.0 406.0,994.1 410.0,994.1 414.0,994.2 418.0,994.3 422.0,994.3 426.0,994.4 430.0,994.5 434.0,994.6 438.0,994.6 442.0,994.7 446.0,994.8 450.0,994.9 454.0,994.9 458.0,995.0 462.0,995.1 466.0,995.2 470.0,995.3 474.0,995.3 478.0,995.4 482.0,995.5 486.0,995.6 490.0,995.7 494.0,995.8 498.0,995.8 502.0,995.9 506.0,996.0 510.0,996.1 514.0,996.2 518.0,996.2 522.0,996.3 526.0,996.4 530.0,996.5 534.0,996.6 538.0,996.6 542.0,996.7 546.0,996.8 550.0,996.9 554.0,996.9 558.0,997.0 562.0,997.1 566.0,997.1 570.0,997.2 574.0,997.3 578.0,997.3 582.0,997.4 586.0,997.4 590.0,997.5 594.0,997.5 598.0,997.6 602.0,997.6 606.0,997.7 610.0,997.7 614.0,997.8 618.0,997.8 622.0,997.8 626.0,997.9 630.0,997.9 634.0,997.9 638.0,997.9 642.0,998.0 646.0,998.0 650.0,998.0 654.0,998.0 658.0,998.0 662.0,998.0 666.0,998.0 670.0,998.0 674.0,998.0 678.0,997.9 682.0,997.9 686.0,997.8 690.0,997.8 694.0,997.7 698.0,997.7 702.0,997.6 706.0,997.6 710.0,997.5 714.0,997.4 718.0,997.3 722.0,997.3 726.0,997.2 730.0,997.1 734.0,997.0 738.0,996.9 742.0,996.9 746.0,996.8 750.0,996.7 754.0,996.6 758.0,996.5 762.0,996.4 766.0,996.4 770.0,996.3 774.0,996.2 778.0,996.1 782.0,996.1 786.0,996.0 790.0,995.9 794.0,995.9 798.0,995.8 802.0,995.8 806.0,995.7 810.0,995.7 814.0,995.7 818.0,995.6 822.0,995.6 826.0,995.6 830.0,995.6 834.0,995.6 838.0,995.6 842.0,995.5 846.0,995.5 850.0,995.5 854.0,995.5 858.0,995.5 862.0,995.5 866.0,995.4 870.0,995.4 874.0,995.4 878.0,995.3 882.0,995.3 886.0,995.2 890.0,995.2 894.0,995.1 898.0,995.0 902.0,995.0 906.0,994.9 910.0,994.8 914.0,994.7 918.0,994.6 922.0,994.5 926.0,994.4 930.0,994.3 934.0,994.2 938.0,994.1 942.0,994.0 946.0,993.9 950.0,993.8 954.0,993.7 958.0,993.6 962.0,993.5 966.0,993.4 970.0,993.2 974.0,993.1 978.0,993.0 982.0,992.9 986.0,992.8 990.0,992.6 994.0,992.5 998.0,992.4 1002.0,992.3 1006.0,992.1 1010.0,992.0 1014.0,991.9 1018.0,991.7 1022.0,991.6 1026.0,991.5 1030.0,991.3 1034.0,991.2 1038.0,991.0 1042.0,990.9 1046.0,990.8 1050.0,990.6 1054.0,990.5 1058.0,990.3 1062.0,990.2 1066.0,990.0 1070.0,989.9 1074.0,989.7 1078.0,989.6 1082.0,989.4 1086.0,989.3 1090.0,989.1 1094.0,989.0 1098.0,988.8 1102.0,988.7 1106.0,988.5 1110.0,988.4 1114.0,988.2 1118.0,988.1 1122.0,987.9 1126.0,987.8 1130.0,987.6 1134.0,987.5 1138.0,987.3 1142.0,987.2 1146.0,987.0 1150.0,986.8 1154.0,986.7 1158.0,986.5 1162.0,986.4 1166.0,986.2 1170.0,986.1 1174.0,985.9 1178.0,985.8 1182.0,985.6 1186.0,985.4 1190.0,985.3 1194.0,985.1 1198.0,984.9 1202.0,984.8 1206.0,984.6 1210.0,984.4 1214.0,984.2 1218.0,984.1 1222.0,983.9 1226.0,983.7 1230.0,983.6 1234.0,983.4 1238.0,983.2 1242.0,983.0 1246.0,982.8 1250.0,982.7 1254.0,982.5 1258.0,982.3 1262.0,982.1 1266.0,981.9 1270.0,981.8 1274.0,981.6 1278.0,981.4 1282.0,981.2 1286.0,981.0 1290.0,980.8 1294.0,980.7 1298.0,980.5 1302.0,980.3 1306.0,980.1 1310.0,979.9 1314.0,979.7 1318.0,979.5 1322.0,979.4 1326.0,979.2 1330.0,979.0 1334.0,978.8 1338.0,978.6 1342.0,978.4 1346.0,978.3 1350.0,978.1 1354.0,977.9 1358.0,977.7 1362.0,977.5 1366.0,977.4 1370.0,977.2 1374.0,977.0 1378.0,976.8 1382.0,976.6 1386.0,976.5 1390.0,976.3 1394.0,976.1 1398.0,975.9 1402.0,975.8 1406.0,975.6 1410.0,975.4 1414.0,975.3 1418.0,975.1 1422.0,974.9 1426.0,974.7 1430.0,974.6 1434.0,974.4 1438.0,974.2 1442.0,974.1 1446.0,973.9 1450.0,973.7 1454.0,973.6 1458.0,973.4 1462.0,973.2 1466.0,973.0 1470.0,972.9 1474.0,972.7 1478.0,972.5 1482.0,972.4 1486.0,972.2 1490.0,972.0 1494.0,971.9 1498.0,971.7 1502.0,971.6 1506.0,971.4 1510.0,971.3 1514.0,971.1 1518.0,971.0 1522.0,970.8 1526.0,970.7 1530.0,970.6 1534.0,970.4 1538.0,970.3 1542.0,970.2 1546.0,970.1 1550.0,970.0 1554.0,969.8 1558.0,969.7 1562.0,969.6 1566.0,969.5 1570.0,969.4 1574.0,969.3 1578.0,969.2 1582.0,969.1 1586.0,969.0 1590.0,968.9 1594.0,968.8 1598.0,968.7 1602.0,968.6 1606.0,968.5 1610.0,968.4 1614.0,968.3 1618.0,968.3 1622.0,968.2 1626.0,968.1 1630.0,968.0 1634.0,968.0 1638.0,967.9 1642.0,967.8 1646.0,967.8 1650.0,967.7 1654.0,967.7 1658.0,967.6 1662.0,967.6 1666.0,967.5 1670.0,967.5 1674.0,967.5 1678.0,967.4 1682.0,967.4 1686.0,967.4 1690.0,967.4 1694.0,967.4 1698.0,967.4 1702.0,967.4 1706.0,967.4 1710.0,967.4 1714.0,967.4 1718.0,967.4 1722.0,967.5 1726.0,967.5 1730.0,967.5 1734.0,967.6 1738.0,967.6 1742.0,967.6 1746.0,967.7 1750.0,967.7 1754.0,967.8 1758.0,967.8 1762.0,967.9 1766.0,968.0 1770.0,968.0 1774.0,968.1 1778.0,968.1 1782.0,968.2 1786.0,968.3 1790.0,968.3 1794.0,968.4 1798.0,968.5 1802.0,968.5 1806.0,968.6 1810.0,968.7 1814.0,968.8 1818.0,968.8 1822.0,968.9 1826.0,969.0 1830.0,969.1 1834.0,969.2 1838.0,969.3 1842.0,969.4 1846.0,969.5 1850.0,969.6 1854.0,969.7 1858.0,969.8 1862.0,969.9 1866.0,970.0 1870.0,970.1 1874.0,970.2 1878.0,970.3 1882.0,970.4 1886.0,970.5 1890.0,970.6 1894.0,970.7 1898.0,970.8 1902.0,970.9 1906.0,971.0 1910.0,971.1 1914.0,971.2 1918.0,971.3 1922.0,971.4 1926.0,971.5 1930.0,971.6" fill="none" stroke="#515151" stroke-width="12.5" stroke-linejoin="round" stroke-linecap="butt"/>
<polyline points="390.0,993.3 402.0,993.5 406.0,993.6 410.0,993.7 414.0,993.7 418.0,993.8 422.0,993.9 426.0,994.0 430.0,994.1 434.0,994.1 438.0,994.2 442.0,994.3 446.0,994.4 450.0,994.5 454.0,994.6 458.0,994.7 462.0,994.7 466.0,994.8 470.0,994.9 474.0,995.0 478.0,995.1 482.0,995.2 486.0,995.3 490.0,995.4 494.0,995.5 498.0,995.6 502.0,995.6 506.0,995.7 510.0,995.8 514.0,995.9 518.0,996.0 522.0,996.1 526.0,996.2 530.0,996.3 534.0,996.4 538.0,996.4 542.0,996.5 546.0,996.6 550.0,996.7 554.0,996.8 558.0,996.9 562.0,996.9 566.0,997.0 570.0,997.1 574.0,997.2 578.0,997.2 582.0,997.3 586.0,997.4 590.0,997.4 594.0,997.5 598.0,997.6 602.0,997.6 606.0,997.7 610.0,997.8 614.0,997.8 618.0,997.9 622.0,997.9 626.0,998.0 630.0,998.0 634.0,998.1 638.0,998.1 642.0,998.2 646.0,998.2 650.0,998.2 654.0,998.3 658.0,998.3 662.0,998.3 666.0,998.3 670.0,998.4 674.0,998.4 678.0,998.4 682.0,998.4 686.0,998.4 690.0,998.4 694.0,998.4 698.0,998.4 702.0,998.4 706.0,998.3 710.0,998.3 714.0,998.3 718.0,998.3 722.0,998.3 726.0,998.2 730.0,998.2 734.0,998.2 738.0,998.1 742.0,998.1 746.0,998.1 750.0,998.0 754.0,998.0 758.0,997.9 762.0,997.9 766.0,997.9 770.0,997.8 774.0,997.8 778.0,997.7 782.0,997.7 786.0,997.6 790.0,997.6 794.0,997.6 798.0,997.5 802.0,997.5 806.0,997.4 810.0,997.4 814.0,997.4 818.0,997.3 822.0,997.3 826.0,997.2 830.0,997.2 834.0,997.1 838.0,997.1 842.0,997.0 846.0,997.0 850.0,996.9 854.0,996.9 858.0,996.8 862.0,996.8 866.0,996.7 870.0,996.6 874.0,996.5 878.0,996.5 882.0,996.4 886.0,996.3 890.0,996.2 894.0,996.1 898.0,996.0 902.0,996.0 906.0,995.9 910.0,995.7 914.0,995.6 918.0,995.5 922.0,995.4 926.0,995.3 930.0,995.2 934.0,995.1 938.0,995.0 942.0,994.9 946.0,994.8 950.0,994.6 954.0,994.5 958.0,994.4 962.0,994.3 966.0,994.1 970.0,994.0 974.0,993.9 978.0,993.8 982.0,993.6 986.0,993.5 990.0,993.4 994.0,993.2 998.0,993.1 1002.0,993.0 1006.0,992.8 1010.0,992.7 1014.0,992.6 1018.0,992.4 1022.0,992.3 1026.0,992.1 1030.0,992.0 1034.0,991.8 1038.0,991.7 1042.0,991.6 1046.0,991.4 1050.0,991.3 1054.0,991.1 1058.0,991.0 1062.0,990.8 1066.0,990.7 1070.0,990.5 1074.0,990.4 1078.0,990.2 1082.0,990.1 1086.0,989.9 1090.0,989.8 1094.0,989.6 1098.0,989.5 1102.0,989.3 1106.0,989.2 1110.0,989.0 1114.0,988.9 1118.0,988.7 1122.0,988.6 1126.0,988.4 1130.0,988.3 1134.0,988.1 1138.0,988.0 1142.0,987.8 1146.0,987.7 1150.0,987.5 1154.0,987.4 1158.0,987.2 1162.0,987.1 1166.0,986.9 1170.0,986.8 1174.0,986.6 1178.0,986.5 1182.0,986.3 1186.0,986.2 1190.0,986.0 1194.0,985.9 1198.0,985.7 1202.0,985.5 1206.0,985.4 1210.0,985.2 1214.0,985.1 1218.0,984.9 1222.0,984.7 1226.0,984.6 1230.0,984.4 1234.0,984.3 1238.0,984.1 1242.0,983.9 1246.0,983.8 1250.0,983.6 1254.0,983.4 1258.0,983.3 1262.0,983.1 1266.0,982.9 1270.0,982.8 1274.0,982.6 1278.0,982.4 1282.0,982.3 1286.0,982.1 1290.0,981.9 1294.0,981.8 1298.0,981.6 1302.0,981.4 1306.0,981.3 1310.0,981.1 1314.0,980.9 1318.0,980.8 1322.0,980.6 1326.0,980.4 1330.0,980.3 1334.0,980.1 1338.0,979.9 1342.0,979.8 1346.0,979.6 1350.0,979.5 1354.0,979.3 1358.0,979.1 1362.0,979.0 1366.0,978.8 1370.0,978.7 1374.0,978.5 1378.0,978.3 1382.0,978.2 1386.0,978.0 1390.0,977.9 1394.0,977.7 1398.0,977.6 1402.0,977.4 1406.0,977.3 1410.0,977.1 1414.0,977.0 1418.0,976.8 1422.0,976.6 1426.0,976.5 1430.0,976.3 1434.0,976.2 1438.0,976.0 1442.0,975.8 1446.0,975.7 1450.0,975.5 1454.0,975.4 1458.0,975.2 1462.0,975.1 1466.0,974.9 1470.0,974.7 1474.0,974.6 1478.0,974.4 1482.0,974.3 1486.0,974.2 1490.0,974.0 1494.0,973.9 1498.0,973.7 1502.0,973.6 1506.0,973.5 1510.0,973.3 1514.0,973.2 1518.0,973.1 1522.0,973.0 1526.0,972.9 1530.0,972.8 1534.0,972.7 1538.0,972.6 1542.0,972.5 1546.0,972.4 1550.0,972.3 1554.0,972.2 1558.0,972.2 1562.0,972.1 1566.0,972.0 1570.0,971.9 1574.0,971.9 1578.0,971.8 1582.0,971.7 1586.0,971.7 1590.0,971.6 1594.0,971.5 1598.0,971.5 1602.0,971.4 1606.0,971.4 1610.0,971.4 1614.0,971.3 1618.0,971.3 1622.0,971.2 1626.0,971.2 1630.0,971.2 1634.0,971.2 1638.0,971.2 1642.0,971.2 1646.0,971.2 1650.0,971.2 1654.0,971.2 1658.0,971.2 1662.0,971.2 1666.0,971.2 1670.0,971.3 1674.0,971.3 1678.0,971.3 1682.0,971.4 1686.0,971.4 1690.0,971.5 1694.0,971.6 1698.0,971.6 1702.0,971.7 1706.0,971.8 1710.0,971.9 1714.0,972.0 1718.0,972.1 1722.0,972.3 1726.0,972.4 1730.0,972.5 1734.0,972.6 1738.0,972.8 1742.0,972.9 1746.0,973.1 1750.0,973.2 1754.0,973.4 1758.0,973.6 1762.0,973.7 1766.0,973.9 1770.0,974.1 1774.0,974.3 1778.0,974.4 1782.0,974.6 1786.0,974.8 1790.0,975.0 1794.0,975.2 1798.0,975.4 1802.0,975.6 1806.0,975.8 1810.0,976.0 1814.0,976.2 1818.0,976.5 1822.0,976.7 1826.0,976.9 1830.0,977.2 1834.0,977.4 1838.0,977.7 1842.0,977.9 1846.0,978.2 1850.0,978.5 1854.0,978.7 1858.0,979.0 1862.0,979.3 1866.0,979.5 1870.0,979.8 1874.0,980.1 1878.0,980.4 1882.0,980.6 1886.0,980.9 1890.0,981.2 1894.0,981.5 1898.0,981.7 1902.0,982.0 1906.0,982.3 1910.0,982.6 1914.0,982.8 1918.0,983.1 1922.0,983.4 1926.0,983.6 1930.0,983.9" fill="none" stroke="#fe3e3e" stroke-width="12.5" stroke-linejoin="round" stroke-linecap="butt"/>
<polyline points="390.0,1003.1 402.0,1002.8 406.0,1002.7 410.0,1002.6 414.0,1002.5 418.0,1002.4 422.0,1002.3 426.0,1002.2 430.0,1002.1 434.0,1002.0 438.0,1001.9 442.0,1001.9 446.0,1001.8 450.0,1001.7 454.0,1001.6 458.0,1001.5 462.0,1001.4 466.0,1001.4 470.0,1001.3 474.0,1001.2 478.0,1001.1 482.0,1001.0 486.0,1001.0 490.0,1000.9 494.0,1000.8 498.0,1000.8 502.0,1000.7 506.0,1000.6 510.0,1000.6 514.0,1000.5 518.0,1000.4 522.0,1000.4 526.0,1000.3 530.0,1000.3 534.0,1000.2 538.0,1000.1 542.0,1000.1 546.0,1000.0 550.0,1000.0 554.0,999.9 558.0,999.9 562.0,999.8 566.0,999.8 570.0,999.7 574.0,999.7 578.0,999.6 582.0,999.6 586.0,999.5 590.0,999.5 594.0,999.4 598.0,999.4 602.0,999.4 606.0,999.3 610.0,999.3 614.0,999.2 618.0,999.2 622.0,999.1 626.0,999.1 630.0,999.1 634.0,999.0 638.0,999.0 642.0,999.0 646.0,998.9 650.0,998.9 654.0,998.8 658.0,998.8 662.0,998.8 666.0,998.7 670.0,998.7 674.0,998.7 678.0,998.6 682.0,998.6 686.0,998.6 690.0,998.5 694.0,998.5 698.0,998.4 702.0,998.4 706.0,998.4 710.0,998.3 714.0,998.3 718.0,998.3 722.0,998.2 726.0,998.2 730.0,998.2 734.0,998.1 738.0,998.1 742.0,998.1 746.0,998.0 750.0,998.0 754.0,998.0 758.0,997.9 762.0,997.9 766.0,997.8 770.0,997.8 774.0,997.8 778.0,997.7 782.0,997.7 786.0,997.6 790.0,997.6 794.0,997.6 798.0,997.5 802.0,997.5 806.0,997.4 810.0,997.4 814.0,997.4 818.0,997.3 822.0,997.3 826.0,997.2 830.0,997.2 834.0,997.1 838.0,997.1 842.0,997.0 846.0,997.0 850.0,996.9 854.0,996.9 858.0,996.8 862.0,996.8 866.0,996.7 870.0,996.7 874.0,996.6 878.0,996.6 882.0,996.5 886.0,996.5 890.0,996.4 894.0,996.3 898.0,996.3 902.0,996.2 906.0,996.1 910.0,996.1 914.0,996.0 918.0,995.9 922.0,995.9 926.0,995.8 930.0,995.7 934.0,995.7 938.0,995.6 942.0,995.5 946.0,995.4 950.0,995.4 954.0,995.3 958.0,995.2 962.0,995.1 966.0,995.0 970.0,995.0 974.0,994.9 978.0,994.8 982.0,994.7 986.0,994.6 990.0,994.5 994.0,994.5 998.0,994.4 1002.0,994.3 1006.0,994.2 1010.0,994.1 1014.0,994.0 1018.0,993.9 1022.0,993.8 1026.0,993.7 1030.0,993.6 1034.0,993.6 1038.0,993.5 1042.0,993.4 1046.0,993.3 1050.0,993.2 1054.0,993.1 1058.0,993.0 1062.0,992.9 1066.0,992.8 1070.0,992.7 1074.0,992.6 1078.0,992.5 1082.0,992.4 1086.0,992.3 1090.0,992.2 1094.0,992.1 1098.0,992.0 1102.0,991.9 1106.0,991.8 1110.0,991.7 1114.0,991.7 1118.0,991.6 1122.0,991.5 1126.0,991.4 1130.0,991.3 1134.0,991.2 1138.0,991.1 1142.0,991.0 1146.0,990.9 1150.0,990.8 1154.0,990.7 1158.0,990.6 1162.0,990.5 1166.0,990.4 1170.0,990.4 1174.0,990.3 1178.0,990.2 1182.0,990.1 1186.0,990.0 1190.0,989.9 1194.0,989.8 1198.0,989.7 1202.0,989.7 1206.0,989.6 1210.0,989.5 1214.0,989.4 1218.0,989.3 1222.0,989.2 1226.0,989.2 1230.0,989.1 1234.0,989.0 1238.0,988.9 1242.0,988.9 1246.0,988.8 1250.0,988.7 1254.0,988.6 1258.0,988.6 1262.0,988.5 1266.0,988.4 1270.0,988.4 1274.0,988.3 1278.0,988.2 1282.0,988.2 1286.0,988.1 1290.0,988.1 1294.0,988.0 1298.0,988.0 1302.0,987.9 1306.0,987.8 1310.0,987.8 1314.0,987.7 1318.0,987.7 1322.0,987.7 1326.0,987.6 1330.0,987.6 1334.0,987.5 1338.0,987.5 1342.0,987.4 1346.0,987.4 1350.0,987.4 1354.0,987.3 1358.0,987.3 1362.0,987.3 1366.0,987.3 1370.0,987.2 1374.0,987.2 1378.0,987.2 1382.0,987.2 1386.0,987.2 1390.0,987.2 1394.0,987.1 1398.0,987.1 1402.0,987.1 1406.0,987.1 1410.0,987.1 1414.0,987.1 1418.0,987.1 1422.0,987.2 1426.0,987.2 1430.0,987.2 1434.0,987.2 1438.0,987.2 1442.0,987.3 1446.0,987.3 1450.0,987.4 1454.0,987.4 1458.0,987.5 1462.0,987.6 1466.0,987.6 1470.0,987.7 1474.0,987.8 1478.0,987.9 1482.0,988.0 1486.0,988.2 1490.0,988.3 1494.0,988.4 1498.0,988.6 1502.0,988.7 1506.0,988.9 1510.0,989.1 1514.0,989.3 1518.0,989.5 1522.0,989.8 1526.0,990.0 1530.0,990.2 1534.0,990.5 1538.0,990.8 1542.0,991.1 1546.0,991.4 1550.0,991.7 1554.0,992.1 1558.0,992.4 1562.0,992.8 1566.0,993.2 1570.0,993.6 1574.0,994.0 1578.0,994.5 1582.0,994.9 1586.0,995.4 1590.0,995.9 1594.0,996.4 1598.0,997.0 1602.0,997.5 1606.0,998.1 1610.0,998.7 1614.0,999.4 1618.0,1000.0 1622.0,1000.7 1626.0,1001.4 1630.0,1002.1 1634.0,1002.8 1638.0,1003.6 1642.0,1004.3 1646.0,1005.1 1650.0,1006.0 1654.0,1006.8 1658.0,1007.7 1662.0,1008.6 1666.0,1009.6 1670.0,1010.5 1674.0,1011.5 1678.0,1012.6 1682.0,1013.7 1686.0,1014.8 1690.0,1016.0 1694.0,1017.3 1698.0,1018.6 1702.0,1019.9 1706.0,1021.4 1710.0,1022.8 1714.0,1024.4 1718.0,1026.0 1722.0,1027.8 1726.0,1029.5 1730.0,1031.4 1734.0,1033.4 1738.0,1035.4 1742.0,1037.6 1746.0,1039.8 1750.0,1042.1 1754.0,1044.6 1758.0,1047.1 1762.0,1049.8 1766.0,1052.5 1770.0,1055.4 1774.0,1058.4 1778.0,1061.5 1782.0,1064.7 1786.0,1068.1 1790.0,1071.6 1794.0,1075.2 1798.0,1079.0 1802.0,1082.9 1806.0,1086.9 1810.0,1091.1 1814.0,1095.4 1818.0,1099.9 1822.0,1104.4 1826.0,1109.1 1830.0,1113.9 1834.0,1118.8 1838.0,1123.9 1842.0,1129.0 1846.0,1134.3 1850.0,1139.7 1854.0,1145.1 1858.0,1150.7 1862.0,1156.4 1866.0,1162.1 1870.0,1168.0 1874.0,1174.0 1878.0,1180.1 1882.0,1186.3 1886.0,1192.6 1890.0,1199.1 1894.0,1205.6 1898.0,1212.3 1902.0,1219.0 1906.0,1225.9 1910.0,1232.9 1914.0,1240.0 1918.0,1247.3 1922.0,1254.6 1926.0,1262.1 1930.0,1269.7" fill="none" stroke="#056fe0" stroke-width="12.5" stroke-linejoin="round" stroke-linecap="butt"/>
<polyline points="390.0,1012.4 402.0,1012.3 406.0,1012.3 410.0,1012.3 414.0,1012.3 418.0,1012.3 422.0,1012.3 426.0,1012.3 430.0,1012.3 434.0,1012.4 438.0,1012.4 442.0,1012.5 446.0,1012.5 450.0,1012.6 454.0,1012.7 458.0,1012.7 462.0,1012.8 466.0,1012.9 470.0,1013.0 474.0,1013.1 478.0,1013.2 482.0,1013.4 486.0,1013.5 490.0,1013.6 494.0,1013.8 498.0,1013.9 502.0,1014.0 506.0,1014.2 510.0,1014.3 514.0,1014.5 518.0,1014.7 522.0,1014.8 526.0,1015.0 530.0,1015.2 534.0,1015.3 538.0,1015.5 542.0,1015.7 546.0,1015.9 550.0,1016.0 554.0,1016.2 558.0,1016.4 562.0,1016.6 566.0,1016.8 570.0,1016.9 574.0,1017.1 578.0,1017.3 582.0,1017.5 586.0,1017.7 590.0,1017.9 594.0,1018.0 598.0,1018.2 602.0,1018.4 606.0,1018.6 610.0,1018.7 614.0,1018.9 618.0,1019.1 622.0,1019.3 626.0,1019.4 630.0,1019.6 634.0,1019.7 638.0,1019.9 642.0,1020.0 646.0,1020.2 650.0,1020.3 654.0,1020.4 658.0,1020.6 662.0,1020.7 666.0,1020.8 670.0,1020.9 674.0,1021.0 678.0,1021.1 682.0,1021.2 686.0,1021.3 690.0,1021.4 694.0,1021.5 698.0,1021.5 702.0,1021.6 706.0,1021.7 710.0,1021.7 714.0,1021.8 718.0,1021.8 722.0,1021.9 726.0,1021.9 730.0,1022.0 734.0,1022.0 738.0,1022.0 742.0,1022.0 746.0,1022.1 750.0,1022.1 754.0,1022.1 758.0,1022.1 762.0,1022.1 766.0,1022.2 770.0,1022.2 774.0,1022.2 778.0,1022.2 782.0,1022.2 786.0,1022.2 790.0,1022.2 794.0,1022.2 798.0,1022.2 802.0,1022.2 806.0,1022.2 810.0,1022.3 814.0,1022.3 818.0,1022.3 822.0,1022.3 826.0,1022.3 830.0,1022.3 834.0,1022.3 838.0,1022.3 842.0,1022.4 846.0,1022.4 850.0,1022.4 854.0,1022.4 858.0,1022.5 862.0,1022.5 866.0,1022.5 870.0,1022.6 874.0,1022.6 878.0,1022.7 882.0,1022.7 886.0,1022.8 890.0,1022.8 894.0,1022.9 898.0,1023.0 902.0,1023.0 906.0,1023.1 910.0,1023.2 914.0,1023.3 918.0,1023.4 922.0,1023.5 926.0,1023.6 930.0,1023.7 934.0,1023.9 938.0,1024.0 942.0,1024.1 946.0,1024.3 950.0,1024.4 954.0,1024.6 958.0,1024.8 962.0,1024.9 966.0,1025.1 970.0,1025.3 974.0,1025.5 978.0,1025.8 982.0,1026.0 986.0,1026.2 990.0,1026.5 994.0,1026.8 998.0,1027.0 1002.0,1027.3 1006.0,1027.6 1010.0,1027.9 1014.0,1028.3 1018.0,1028.6 1022.0,1028.9 1026.0,1029.3 1030.0,1029.7 1034.0,1030.1 1038.0,1030.5 1042.0,1030.9 1046.0,1031.3 1050.0,1031.8 1054.0,1032.2 1058.0,1032.7 1062.0,1033.2 1066.0,1033.7 1070.0,1034.3 1074.0,1034.8 1078.0,1035.4 1082.0,1036.0 1086.0,1036.6 1090.0,1037.2 1094.0,1037.8 1098.0,1038.5 1102.0,1039.2 1106.0,1039.8 1110.0,1040.6 1114.0,1041.3 1118.0,1042.0 1122.0,1042.8 1126.0,1043.6 1130.0,1044.4 1134.0,1045.3 1138.0,1046.1 1142.0,1047.0 1146.0,1047.9 1150.0,1048.8 1154.0,1049.8 1158.0,1050.7 1162.0,1051.7 1166.0,1052.7 1170.0,1053.8 1174.0,1054.9 1178.0,1055.9 1182.0,1057.1 1186.0,1058.2 1190.0,1059.4 1194.0,1060.5 1198.0,1061.8 1202.0,1063.0 1206.0,1064.3 1210.0,1065.6 1214.0,1066.9 1218.0,1068.2 1222.0,1069.6 1226.0,1071.0 1230.0,1072.4 1234.0,1073.9 1238.0,1075.4 1242.0,1076.9 1246.0,1078.4 1250.0,1080.0 1254.0,1081.6 1258.0,1083.3 1262.0,1085.0 1266.0,1086.7 1270.0,1088.5 1274.0,1090.3 1278.0,1092.2 1282.0,1094.1 1286.0,1096.0 1290.0,1098.0 1294.0,1100.0 1298.0,1102.1 1302.0,1104.2 1306.0,1106.4 1310.0,1108.7 1314.0,1110.9 1318.0,1113.3 1322.0,1115.7 1326.0,1118.1 1330.0,1120.6 1334.0,1123.2 1338.0,1125.8 1342.0,1128.5 1346.0,1131.2 1350.0,1134.1 1354.0,1136.9 1358.0,1139.9 1362.0,1142.9 1366.0,1145.9 1370.0,1149.1 1374.0,1152.3 1378.0,1155.6 1382.0,1158.9 1386.0,1162.3 1390.0,1165.8 1394.0,1169.3 1398.0,1172.9 1402.0,1176.6 1406.0,1180.3 1410.0,1184.1 1414.0,1188.0 1418.0,1191.9 1422.0,1196.0 1426.0,1200.0 1430.0,1204.2 1434.0,1208.4 1438.0,1212.7 1442.0,1217.1 1446.0,1221.5 1450.0,1226.0 1454.0,1230.6 1458.0,1235.3 1462.0,1240.0 1466.0,1244.8 1470.0,1249.7 1474.0,1254.6 1478.0,1259.6 1482.0,1264.7 1486.0,1269.9 1490.0,1275.1 1494.0,1280.4 1498.0,1285.8 1502.0,1291.3 1506.0,1296.8 1510.0,1302.4 1514.0,1308.1 1518.0,1313.8 1522.0,1319.7 1526.0,1325.6 1530.0,1331.6 1534.0,1337.6 1538.0,1343.7 1542.0,1350.0 1546.0,1356.2 1550.0,1362.6 1554.0,1368.9 1558.0,1375.2 1562.0,1381.5 1566.0,1387.6 1570.0,1393.7 1574.0,1399.8 1578.0,1405.8 1582.0,1411.8 1586.0,1417.8 1590.0,1423.9 1594.0,1429.9 1598.0,1436.0 1602.0,1442.2 1606.0,1448.5 1610.0,1454.8 1614.0,1461.3 1618.0,1467.8 1622.0,1474.3 1626.0,1480.9 1630.0,1487.5 1634.0,1494.1 1638.0,1500.6 1642.0,1507.1 1646.0,1513.5 1650.0,1519.8 1654.0,1526.0 1658.0,1532.2 1662.0,1538.2 1666.0,1544.1 1670.0,1550.0 1674.0,1555.9 1678.0,1561.7 1682.0,1567.5 1686.0,1573.3 1690.0,1579.2 1694.0,1585.0 1698.0,1590.9 1702.0,1596.9 1706.0,1602.9 1710.0,1608.9 1714.0,1614.8 1718.0,1620.6 1722.0,1626.2 1726.0,1631.8 1730.0,1637.1 1734.0,1642.3 1738.0,1647.3 1742.0,1652.2 1746.0,1656.8 1750.0,1661.3 1754.0,1665.6 1758.0,1669.7 1762.0,1673.6 1766.0,1677.3 1770.0,1680.9 1774.0,1684.3 1778.0,1687.6 1782.0,1690.7 1786.0,1693.6 1790.0,1696.4 1794.0,1699.0 1798.0,1701.4 1802.0,1703.8 1806.0,1705.9 1810.0,1708.0 1814.0,1709.8 1818.0,1711.6 1822.0,1713.2 1826.0,1714.7 1830.0,1716.1 1834.0,1717.3 1838.0,1718.4 1842.0,1719.4 1846.0,1720.3 1850.0,1721.1 1854.0,1721.8 1858.0,1722.3 1862.0,1722.8 1866.0,1723.1 1870.0,1723.4 1874.0,1723.6 1878.0,1723.6 1882.0,1723.6 1886.0,1723.5 1890.0,1723.4 1894.0,1723.1 1898.0,1722.8 1902.0,1722.3 1906.0,1721.9 1910.0,1721.3 1914.0,1720.7 1918.0,1720.0 1922.0,1719.3 1926.0,1718.5 1930.0,1717.6" fill="none" stroke="#02ad68" stroke-width="12.5" stroke-linejoin="round" stroke-linecap="butt"/>
</g>
<line x1="516" y1="250.0" x2="663" y2="250.0" stroke="#515151" stroke-width="12" stroke-linecap="round"/>
<text class="sans" transform="translate(682,272.5) scale(1,1.03)" font-size="67.5">200 K</text>
<line x1="516" y1="331.0" x2="663" y2="331.0" stroke="#fe3e3e" stroke-width="12" stroke-linecap="round"/>
<text class="sans" transform="translate(682,353.5) scale(1,1.03)" font-size="67.5">300 K</text>
<line x1="516" y1="413.0" x2="663" y2="413.0" stroke="#056fe0" stroke-width="12" stroke-linecap="round"/>
<text class="sans" transform="translate(682,435.5) scale(1,1.03)" font-size="67.5">400 K</text>
<line x1="516" y1="495.0" x2="663" y2="495.0" stroke="#02ad68" stroke-width="12" stroke-linecap="round"/>
<text class="sans" transform="translate(682,517.5) scale(1,1.03)" font-size="67.5">500 K</text>
<text class="serif" x="459.7" y="148" font-size="82.5">(a)</text>
<text class="serif" x="459.7" y="1201" font-size="82.5">(b)</text>
<text class="serif" transform="translate(115,564.5) rotate(-90) scale(1,1.025)" font-size="98">Strain ε<tspan font-size="67.5" dy="25.7">z</tspan></text>
<text class="serif" transform="translate(167.7,1683.8) rotate(-90) scale(1,1.025)" font-size="98">Poisson's ratio <tspan dx="-2">ν</tspan><tspan font-size="67.5" dx="-2" dy="25.7">zx</tspan></text>
<text class="serif" transform="translate(972.9,1967.3) scale(1,1.02)" font-size="105.5">Strain ε<tspan font-size="71" dy="26.5">x</tspan></text>
</svg></body></html>
